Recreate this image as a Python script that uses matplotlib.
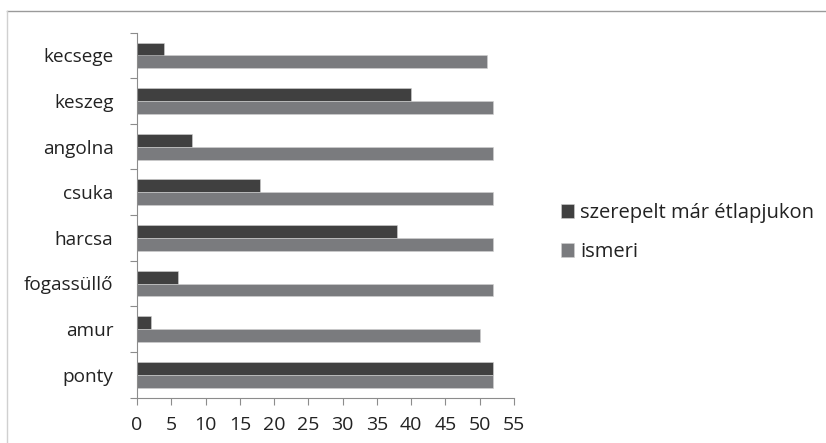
import numpy as np
import matplotlib.pyplot as plt
from matplotlib.lines import Line2D

plt.rcParams['font.family'] = ['Open Sans', 'DejaVu Sans']

halak = ['ponty', 'amur', 'fogassüllő', 'harcsa', 'csuka', 'angolna', 'keszeg', 'kecsege']
szerepelt = [52, 2, 6, 38, 18, 8, 40, 4]
ismeri = [52, 50, 52, 52, 52, 52, 52, 51]
xticks = list(range(0, 56, 5))

fig = plt.figure(figsize=(8.26, 4.43), dpi=100)
ax = fig.add_axes([137 / 826, 1 - 397.5 / 443, (514 - 137) / 826, (397.5 - 32.7) / 443])

y = np.arange(len(halak))
h = 0.285
ax.barh(y + h / 2, szerepelt, height=h, color='#404040', edgecolor='#d0d0d0', linewidth=0.4,
        label='szerepelt már étlapjukon')
ax.barh(y - h / 2, ismeri, height=h, color='#7a7b7e', edgecolor='#d0d0d0', linewidth=0.4,
        label='ismeri')

ax.set_xlim(0, 55)
ax.set_ylim(-0.5, len(halak) - 0.5)
ax.set_xticks(xticks)
ax.set_xticklabels([str(t) for t in xticks])
ax.set_yticks(y)
ax.set_yticklabels(halak)
ax.set_yticks(np.arange(-0.5, len(halak), 1), minor=True)
ax.tick_params(axis='y', which='major', length=0, pad=17, labelsize=13.7, colors='#222222')
ax.tick_params(axis='y', which='minor', length=5, width=0.8, color='#8c8c8c', direction='out')
ax.tick_params(axis='x', length=5, width=0.8, color='#8c8c8c', direction='out',
               labelsize=14, labelcolor='#222222', pad=8)
for s in ['top', 'right']:
    ax.spines[s].set_visible(False)
for s in ['left', 'bottom']:
    ax.spines[s].set_color('#8c8c8c')
    ax.spines[s].set_linewidth(0.8)

leg = fig.legend(loc='upper left', bbox_to_anchor=(561 / 826, 1 - 203 / 443), frameon=False,
                 borderpad=0, borderaxespad=0,
                 fontsize=14.5, handlelength=0.65, handleheight=0.65, handletextpad=0.3,
                 labelspacing=0.95)
for t in leg.get_texts():
    t.set_color('#222222')

# frame lines around the chart area
fig.add_artist(Line2D([7.5 / 826, 1], [1 - 11 / 443, 1 - 11 / 443], color='#9a9a9a', lw=1.0))
fig.add_artist(Line2D([7.5 / 826, 7.5 / 826], [0, 1 - 11 / 443], color='#d0d0d0', lw=1.0))

fig.savefig('out.png', dpi=100)
